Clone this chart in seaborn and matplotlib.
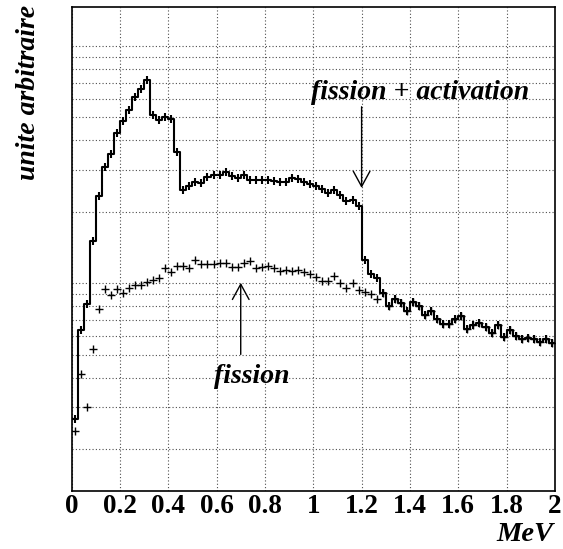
import numpy as np
import pandas as pd
import matplotlib
matplotlib.use("Agg")
import matplotlib.pyplot as plt
from matplotlib.ticker import LogLocator, NullFormatter, MultipleLocator
import seaborn as sns

# binning of the spectrum (MeV)
bin_width = 0.025
n_bins = 80

# fission + activation (arbitrary units, log axis)
total = [2.67, 6.34, 8.14, 15.0, 23.2, 30.8, 35.1, 43.1, 48.2, 53.8,
         61.2, 65.7, 71.9, 51.4, 48.5, 50.4, 49.2, 35.6, 24.8, 25.6,
         26.6, 26.4, 28.0, 28.7, 28.7, 29.5, 28.4, 27.7, 28.6, 27.1,
         27.3, 27.3, 27.3, 27.0, 26.8, 26.8, 27.7, 27.5, 26.6, 26.2,
         25.8, 25.0, 24.1, 24.8, 23.6, 22.1, 22.5, 21.2, 12.5, 10.9,
         10.5, 9.11, 8.03, 8.57, 8.27, 7.62, 8.36, 8.03, 7.33, 7.66,
         7.08, 6.70, 6.75, 7.06, 7.26, 6.39, 6.67, 6.82, 6.51, 6.14,
         6.67, 5.94, 6.34, 5.98, 5.84, 5.89, 5.84, 5.67, 5.84, 5.59]

# fission only
fission = [2.38, 4.13, 3.01, 5.26, 7.75, 9.41, 8.92, 9.41, 9.11, 9.56,
           9.78, 9.78, 10.1, 10.3, 10.5, 11.6, 11.1, 11.8, 11.8, 11.6,
           12.5, 12.0, 12.0, 12.0, 12.2, 12.2, 11.7, 11.7, 12.2, 12.4,
           11.6, 11.7, 11.8, 11.6, 11.2, 11.4, 11.2, 11.4, 11.1, 10.9,
           10.6, 10.2, 10.2, 10.7, 10.0, 9.56, 10.0, 9.32, 9.18, 8.96,
           8.60, 9.11, 8.03, 8.57, 8.27, 7.62, 8.36, 8.03, 7.33, 7.66,
           7.08, 6.70, 6.75, 7.06, 7.26, 6.39, 6.67, 6.82, 6.51, 6.14,
           6.67, 5.94, 6.34, 5.98, 5.84, 5.89, 5.84, 5.67, 5.84, 5.59]

x_ticks = [0, 0.2, 0.4, 0.6, 0.8, 1.0, 1.2, 1.4, 1.6, 1.8, 2.0]
x_labels = ["0", "0.2", "0.4", "0.6", "0.8", "1", "1.2", "1.4", "1.6", "1.8", "2"]

sns.set_style("white")
plt.rcParams["font.family"] = ["Liberation Serif", "DejaVu Serif"]
plt.rcParams["font.weight"] = "bold"
plt.rcParams["text.color"] = "black"
plt.rcParams["xtick.color"] = "black"
plt.rcParams["ytick.color"] = "black"

edges = np.arange(n_bins + 1) * bin_width
centers = edges[:-1] + bin_width / 2
df = pd.DataFrame({"energy": centers, "total": total, "fission": fission})
steps = pd.DataFrame({"edge": edges, "total": total + [total[-1]]})

fig = plt.figure(figsize=(5.63, 5.49), dpi=100)
ax = fig.add_axes([0.127, 0.1056, 0.8588, 0.8811])
ax.set_yscale("log")

sns.lineplot(data=steps, x="edge", y="total", drawstyle="steps-post",
             estimator=None, sort=False, color="black", linewidth=1.5, ax=ax)
sns.scatterplot(data=df, x="energy", y="total", marker="|", s=30,
                color="black", linewidth=1.5, ax=ax)
sns.scatterplot(data=df, x="energy", y="fission", marker="+", s=30,
                color="black", linewidth=1.0, ax=ax)

ax.set_xlim(0, 2)
ax.set_ylim(1.33, 145.5)
ax.set_xlabel("")
ax.set_ylabel("")

ax.set_xticks(x_ticks, x_labels)
ax.xaxis.set_minor_locator(MultipleLocator(0.05))
ax.yaxis.set_major_locator(LogLocator(base=10))
ax.yaxis.set_minor_locator(LogLocator(base=10, subs=range(2, 10)))
ax.yaxis.set_major_formatter(NullFormatter())
ax.yaxis.set_minor_formatter(NullFormatter())

ax.tick_params(axis="both", which="major", direction="in", length=7, width=1,
               labelsize=19.5, pad=2, top=False, right=False)
ax.tick_params(axis="both", which="minor", direction="in", length=3.5,
               width=1, top=False, right=False)

grid_kw = dict(linestyle=(0, (1, 2)), color="0.3", linewidth=0.8)
ax.grid(True, axis="x", which="major", **grid_kw)
ax.grid(True, axis="y", which="both", **grid_kw)
for sp in ax.spines.values():
    sp.set_color("black")
    sp.set_linewidth(1.2)

arrow_kw = dict(arrowstyle="->,head_length=0.55,head_width=0.3", color="black",
                lw=1, shrinkA=0, shrinkB=0, mutation_scale=20)
ax.annotate("", xy=(1.2, 25.2), xytext=(1.2, 55.4), arrowprops=arrow_kw)
ax.annotate("", xy=(0.70, 10.04), xytext=(0.70, 5.01), arrowprops=arrow_kw)

ax.text(1.44, 59.8, "fission + activation", ha="center", va="baseline",
        fontsize=20, style="italic", weight="bold")
ax.text(0.745, 3.79, "fission", ha="center", va="baseline",
        fontsize=20, style="italic", weight="bold")

fig.text(0.05, 0.991, "unite arbitraire", rotation=90, ha="center", va="top",
         fontsize=20, style="italic", weight="bold")
fig.text(553 / 563, 1 - 547 / 549, "MeV", ha="right", va="bottom",
         fontsize=20.5, style="italic", weight="bold")

fig.savefig("out.png", dpi=100)
